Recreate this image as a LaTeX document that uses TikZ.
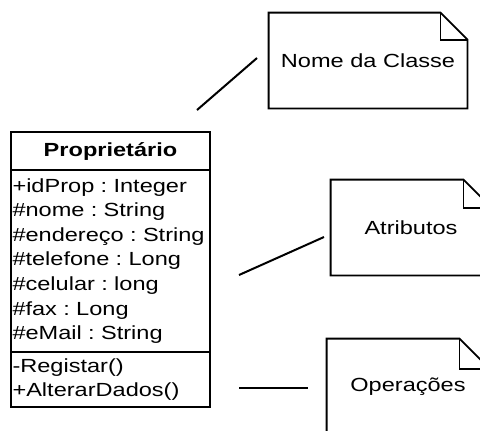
\documentclass[tikz,border=0pt]{standalone}
\usepackage{fontspec}
\setmainfont[FakeStretch=1.24]{Liberation Sans}
\usetikzlibrary{calc}

\tikzset{
  compart/.style={draw, line width=1pt, minimum width=99.5pt, inner xsep=0.75pt, inner ysep=0pt,
    text width=98pt, align=left, font=\fontsize{9.5}{12.3}\selectfont},
  nota/.style={minimum width=#1, minimum height=47.5pt, inner sep=0pt, font=\fontsize{9.5}{12}\selectfont},
  liga/.style={line width=1pt}
}

\begin{document}
\begin{tikzpicture}[x=0.5pt,y=-0.5pt]
	\useasboundingbox[fill=white] (0,0) rectangle (480,430);
	\clip (0,0) rectangle (480,430);
	% a classe
	\node[compart, align=center, minimum height=19pt] (nomeClasse) at (110.5,151) {\bfseries Propriet\'ario};
	\node[compart, minimum height=91pt] (atributos) at (110.5,261) {+idProp~:~Integer\\ \#nome~:~String\\ \#endere\c{c}o~:~String\\ \#telefone~:~Long\\ \#celular~:~long\\ \#fax~:~Long\\ \#eMail~:~String};
	\node[compart, minimum height=27.5pt] (operacoes) at (110.5,379.5) {-Registar()\\ +AlterarDados()};
	% as notas
	\node[nota=99pt] (nomeNota) at (368,60.5) {Nome da Classe};
	\node[nota=80pt] (atribNota) at (411,227.5) {Atributos};
	\node[nota=81pt] (operNota) at (408,386.5) {Opera\c{c}\~oes};
	\foreach \n/\f in {nomeNota/27,atribNota/28,operNota/30}{
		\draw[line width=0.9pt] (\n.north west) -- ($(\n.north east)+(-\f,0)$) -- ($(\n.north east)+(0,\f)$)
			-- (\n.south east) -- (\n.south west) -- cycle;
		\draw[line width=0.9pt] ($(\n.north east)+(-\f,0)$) |- ($(\n.north east)+(0,\f)$);
	}
	% ligacoes
	\coordinate (c1) at (197,110);
	\coordinate (n1) at (257,58);
	\coordinate (c2) at (239,275);
	\coordinate (n2) at (324,237);
	\coordinate (c3) at (239,388);
	\coordinate (n3) at (308,388);
	\draw[liga] (c1) -- (n1);
	\draw[liga] (c2) -- (n2);
	\draw[liga] (c3) -- (n3);
\end{tikzpicture}
\end{document}
